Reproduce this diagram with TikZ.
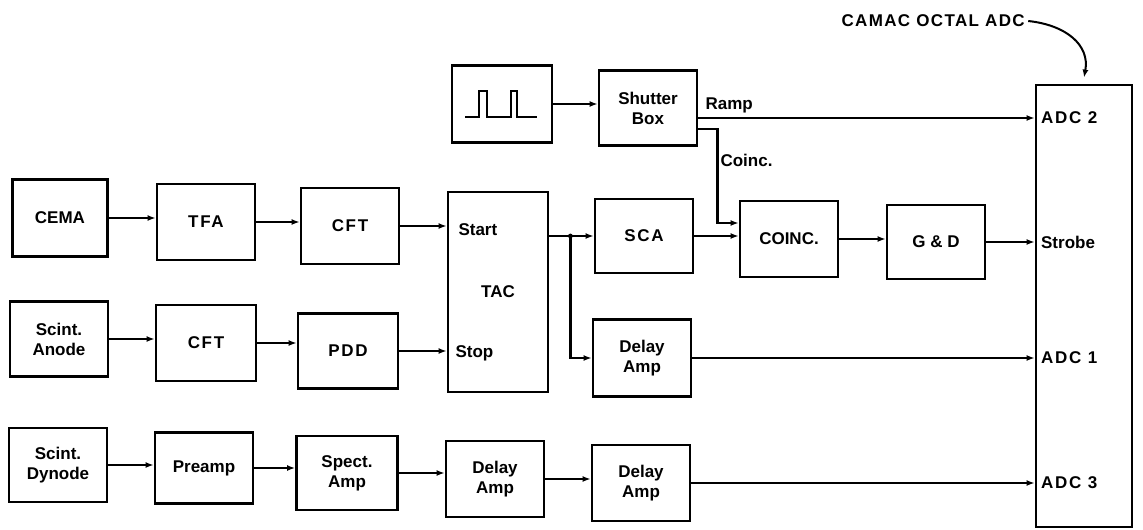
\documentclass[tikz,border=0pt]{standalone}
\usepackage{fontspec}
\setmainfont{Liberation Sans}
\newfontfamily\widefont[LetterSpace=10]{Liberation Sans}
\newfontfamily\camacfont[LetterSpace=8]{Liberation Sans}
\usetikzlibrary{arrows.meta}
\tikzset{
  box/.style={draw, line width=2.8pt, minimum width=98pt, minimum height=76pt, align=center},
  wire/.style={->, line width=2.3pt},
}
\begin{document}
\begin{tikzpicture}[x=1pt, y=-1pt, >={Latex[length=8pt,width=6pt]},
    every node/.style={font=\fontsize{17}{20}\selectfont\bfseries}]
    \useasboundingbox (0,0) rectangle (1143,530);
    % Pulse generator and shutter
    \node[box, minimum width=100pt, minimum height=77pt] (pulse) at (502,104) {};
    \draw[line width=1.8pt] (465,117) -- (479,117) -- (479,91) -- (487,91) -- (487,117)
        -- (511,117) -- (511,91) -- (517,91) -- (517,117) -- (537,117);
    \node[box, minimum height=75pt] (shutter) at (648,108) {Shutter\\Box};
    % ADC crate
    \node[draw, line width=2.8pt, minimum width=96pt, minimum height=442pt] (adc) at (1084,306) {};
    \node (camac) [anchor=west] at (838,21) {\camacfont CAMAC OCTAL ADC};
    \draw[->, line width=2pt] (camac.east) .. controls (1066,25) and (1090,45) .. ([yshift=6pt]adc.north);
    % Timing branch
    \node[box, minimum width=95pt, minimum height=77pt] (cema) at (60,218) {CEMA};
    \node[box] (tfa) at (206,222) {\widefont TFA};
    \node[box] (cft1) at (350,226) {\widefont CFT};
    \node[box, minimum width=100pt, minimum height=200pt] (tac) at (498,292) {TAC};
    \node (tac-start) [anchor=west] at (455,230) {Start};
    \node (tac-stop) [anchor=west] at (452,353) {Stop};
    \node[box, minimum height=74pt] (sca) at (644,236) {\widefont SCA};
    \node[box] (coinc) at (789,239) {COINC.};
    \node[box, minimum height=74pt] (gd) at (936,242) {G \& D};
    \node[box, minimum height=75pt] (anode) at (59,339) {Scint.\\Anode};
    \node[box, minimum width=100pt] (cft2) at (206,343) {\widefont CFT};
    \node[box, minimum width=100pt, minimum height=75pt] (pdd) at (348,351) {\widefont PDD};
    \node[box, minimum height=77pt] (dam) at (642,358) {Delay\\Amp};
    % Energy branch
    \node[box, minimum height=74pt] (dynode) at (58,465) {Scint.\\Dynode};
    \node[box, minimum height=71pt] (preamp) at (204,468) {Preamp};
    \node[box, minimum width=101pt, minimum height=74pt] (spect) at (347,473) {Spect.\\Amp};
    \node[box] (dly1) at (495,479) {Delay\\Amp};
    \node[box] (dly2) at (641,483) {Delay\\Amp};
    % Connections
    \foreach \a/\b in {pulse/shutter, cema/tfa, tfa/cft1, cft1/tac, anode/cft2, cft2/pdd, pdd/tac,
        sca/coinc, coinc/gd, dynode/preamp, preamp/spect, spect/dly1, dly1/dly2} {
        \draw[wire] (\a.east) -- (\a.east -| \b.west);
    }
    \draw[wire] (tac.east |- sca.west) -- (sca.west);
    \path (tac.east |- sca.west) ++(21,0) coordinate (split);
    \fill (split) circle (2.4pt);
    \draw[wire] (split) |- (dam.west);
    \draw[wire] ([yshift=-21pt]shutter.east) -- ++(19,0) |- ([yshift=16pt]coinc.west);
    \node (coinc-lbl) [anchor=west] at (717,160) {Coinc.};
    \draw[wire] ([yshift=-10pt]shutter.east) -- ([yshift=-10pt]shutter.east -| adc.west);
    \node (ramp) [anchor=south west] at (702,117) {Ramp};
    \draw[wire] (gd.east) -- (gd.east -| adc.west);
    \draw[wire] (dam.east) -- (dam.east -| adc.west);
    \draw[wire] (dly2.east) -- (dly2.east -| adc.west);
    % ADC inputs
    \node (adc2) [anchor=west, xshift=3pt] at ([yshift=-10pt]shutter.east -| adc.west) {\widefont ADC 2};
    \node (strobe) [anchor=west, xshift=3pt] at (gd.east -| adc.west) {Strobe};
    \node (adc1) [anchor=west, xshift=3pt] at (dam.east -| adc.west) {\widefont ADC 1};
    \node (adc3) [anchor=west, xshift=3pt] at (dly2.east -| adc.west) {\widefont ADC 3};
\end{tikzpicture}
\end{document}
